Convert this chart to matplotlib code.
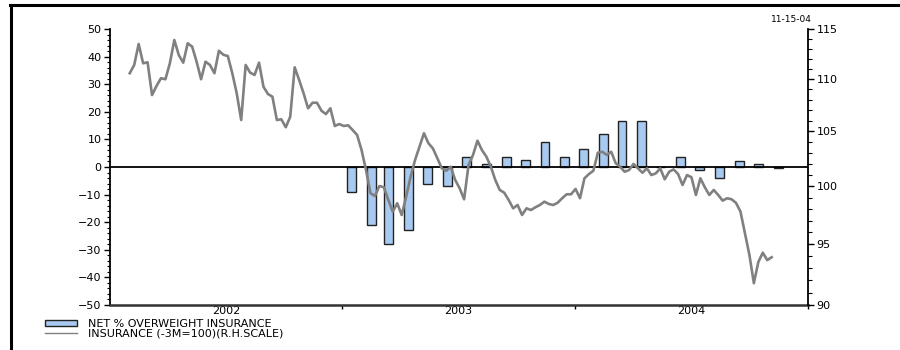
import matplotlib
matplotlib.use("Agg")
import matplotlib.pyplot as plt
from matplotlib.ticker import FixedLocator, NullFormatter, FixedFormatter, MultipleLocator
from matplotlib.patches import Patch
from matplotlib.lines import Line2D
import pandas as pd

plt.rcParams["font.family"] = ["DejaVu Sans"]

# Monthly survey: net % of managers overweight insurance (left scale)
bar_months = pd.date_range("2003-01-01", "2004-11-01", freq="MS") + pd.Timedelta(days=14)
net_overweight = [-9, -21, -28, -23, -6, -7, 3.5, 1, 3.5, 2.5, 9, 3.5,
                  6.5, 12, 16.5, 16.5, 0, 3.5, -1, -4, 2, 1, -0.3]

# Weekly insurance relative index, rebased (-3M = 100), log right scale
insurance = [
    110.57, 111.38, 113.48, 111.55, 111.65, 108.45, 109.32, 110.08, 109.98, 111.55,
    113.88, 112.37, 111.61, 113.55, 113.21, 111.71, 109.98, 111.71, 111.38, 110.57,
    112.80, 112.40, 112.27, 110.57, 108.61, 106.07, 111.38, 110.63, 110.40, 111.61,
    109.25, 108.55, 108.29, 106.07, 106.14, 105.39, 106.38, 111.15, 109.91, 108.61,
    107.18, 107.71, 107.71, 106.95, 106.63, 107.18, 105.51, 105.69, 105.51, 105.57,
    105.13, 104.67, 103.28, 101.46, 99.39, 99.15, 100.03, 99.92, 98.80, 97.78,
    98.51, 97.49, 99.09, 100.86, 102.37, 103.58, 104.83, 103.90, 103.43, 102.53,
    101.61, 101.40, 101.76, 100.57, 99.83, 98.86, 101.92, 102.83, 104.14, 103.28,
    102.67, 101.76, 100.57, 99.68, 99.44, 98.80, 98.07, 98.36, 97.49, 98.07,
    97.92, 98.16, 98.36, 98.65, 98.45, 98.36, 98.56, 98.95, 99.30, 99.30,
    99.77, 98.95, 100.72, 101.10, 101.40, 103.03, 103.12, 102.83, 103.12, 102.08,
    101.76, 101.31, 101.46, 102.01, 101.61, 101.22, 101.61, 101.01, 101.16, 101.61,
    100.63, 101.31, 101.52, 101.10, 100.12, 101.01, 100.81, 99.24, 100.72, 99.92,
    99.24, 99.68, 99.24, 98.74, 98.95, 98.86, 98.54, 97.78, 95.91, 94.09,
    91.76, 93.50, 94.28, 93.66, 93.90,
]
weeks = pd.date_range("2002-02-01", periods=len(insurance), freq="7D")

left_ticks = list(range(-50, 51, 10))
right_ticks = [90, 95, 100, 105, 110, 115]
year_labels = ["2002", "2003", "2004"]

BAR_FILL = "#a9caf0"
LINE_GREY = "#808080"

fig = plt.figure(figsize=(9, 3.5), dpi=100)
ax = fig.add_axes([110 / 900, 45 / 350, 698 / 900, 276 / 350])

ax.bar(bar_months, net_overweight, width=14, color=BAR_FILL,
       edgecolor="#222222", linewidth=1.0, zorder=2)
ax.axhline(0, color="black", linewidth=1.3, zorder=3)

ax.set_ylim(-50, 50)
ax.set_yticks(left_ticks)
ax.yaxis.set_minor_locator(MultipleLocator(2))
ax.tick_params(axis="y", which="major", direction="out", length=4, width=1,
               labelsize=8, pad=2)
ax.tick_params(axis="y", which="minor", direction="out", length=2.5, width=0.8)

x0, x1 = pd.Timestamp("2002-01-01"), pd.Timestamp("2005-01-01")
ax.set_xlim(x0, x1)
ax.xaxis.set_major_locator(FixedLocator(
    matplotlib.dates.date2num([pd.Timestamp("2003-01-01"),
                               pd.Timestamp("2004-01-01"),
                               pd.Timestamp("2005-01-01")])))
ax.xaxis.set_major_formatter(NullFormatter())
ax.xaxis.set_minor_locator(FixedLocator(
    matplotlib.dates.date2num([pd.Timestamp(f"{y}-07-02") for y in year_labels])))
ax.xaxis.set_minor_formatter(FixedFormatter(year_labels))
ax.tick_params(axis="x", which="major", direction="out", length=3, width=1)
ax.tick_params(axis="x", which="minor", length=0, labelsize=8, pad=0.5)

for side in ("top", "right"):
    ax.spines[side].set_visible(False)
ax.spines["left"].set_linewidth(1.3)
ax.spines["bottom"].set_linewidth(1.8)
ax.spines["bottom"].set_color("#333333")

ax2 = ax.twinx()
ax2.plot(weeks, insurance, color=LINE_GREY, linewidth=1.9, zorder=4)
ax2.set_yscale("log")
ax2.set_ylim(90, 115)
ax2.yaxis.set_major_locator(FixedLocator(right_ticks))
ax2.yaxis.set_major_formatter(FixedFormatter([str(t) for t in right_ticks]))
ax2.yaxis.set_minor_locator(FixedLocator([v for v in range(91, 115) if v % 5]))
ax2.yaxis.set_minor_formatter(NullFormatter())
ax2.tick_params(axis="y", which="major", direction="out", length=4, width=1,
                labelsize=8, pad=2)
ax2.tick_params(axis="y", which="minor", direction="out", length=3, width=0.8)
for side in ("top", "left", "bottom"):
    ax2.spines[side].set_visible(False)
ax2.spines["right"].set_linewidth(1.3)

fig.text(812 / 900, 1 - 19 / 350, "11-15-04", ha="right", va="center", fontsize=6.5)

handles = [Patch(facecolor=BAR_FILL, edgecolor="#222222", linewidth=1.0),
           Line2D([], [], color=LINE_GREY, linewidth=1.0)]
fig.legend(handles, ["NET % OVERWEIGHT INSURANCE", "INSURANCE (-3M=100)(R.H.SCALE)"],
           loc="upper left", bbox_to_anchor=(45 / 900, 1 - 319 / 350),
           frameon=False, fontsize=8, labelspacing=-0.05, handlelength=2.9,
           handleheight=0.5, handletextpad=1.0, borderpad=0, borderaxespad=0)

# outer frame
fig.add_artist(Line2D([10 / 900, 1], [1 - 4.5 / 350] * 2, color="black",
                      linewidth=2.2, transform=fig.transFigure))
fig.add_artist(Line2D([10.5 / 900] * 2, [0, 1 - 4.5 / 350], color="black",
                      linewidth=2.2, transform=fig.transFigure))

fig.savefig("out.png", dpi=100)
